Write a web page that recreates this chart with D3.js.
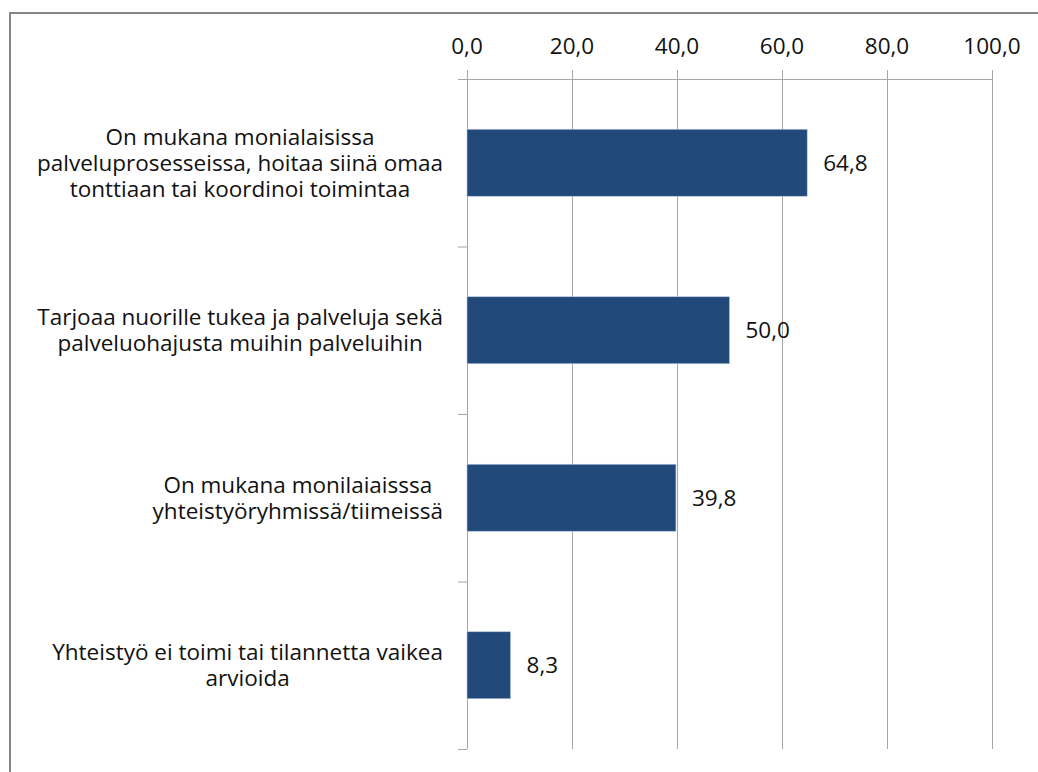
<!DOCTYPE html>
<html>
<head>
<meta charset="utf-8">
<script src="https://cdn.jsdelivr.net/npm/d3@7"></script>
<style>
  html, body { margin: 0; padding: 0; background: #fff; }
  text { font-family: 'Open Sans', 'Noto Sans', sans-serif; fill: #111; }
</style>
</head>
<body>
<script>
const categories = [
  ['On mukana monialaisissa', 'palveluprosesseissa, hoitaa siinä omaa', 'tonttiaan tai koordinoi toimintaa'],
  ['Tarjoaa nuorille tukea ja palveluja sekä', 'palveluohajusta muihin palveluihin'],
  ['On mukana monilaiaisssa', 'yhteistyöryhmissä/tiimeissä'],
  ['Yhteistyö ei toimi tai tilannetta vaikea', 'arvioida']
];
const values = [64.8, 50.0, 39.8, 8.3];
const ticks = [0, 20, 40, 60, 80, 100];

const width = 1038;
const height = 772;
const fontSize = 22.5;
const fmt = v => v.toFixed(1).replace('.', ',');

const svg = d3.select('body').append('svg')
    .attr('width', width)
    .attr('height', height);

// chart area frame (cut off at right and bottom like the source)
svg.append('rect')
    .attr('x', 10)
    .attr('y', 13)
    .attr('width', width + 20)
    .attr('height', height + 20)
    .attr('fill', '#fff')
    .attr('stroke', '#868686')
    .attr('stroke-width', 2);

const x = d3.scaleLinear()
    .domain([0, 100])
    .range([467, 992]);

const y = d3.scaleBand()
    .domain(d3.range(categories.length))
    .range([79, 749])
    .paddingInner(0.6)
    .paddingOuter(0.3);

const plotTop = y.range()[0];
const plotBottom = y.range()[1];

// vertical gridlines
svg.append('g')
  .selectAll('line')
  .data(ticks)
  .join('line')
    .attr('x1', d => x(d) + 0.5)
    .attr('x2', d => x(d) + 0.5)
    .attr('y1', plotTop - 9)
    .attr('y2', plotBottom)
    .attr('stroke', '#a6a6a6')
    .attr('stroke-width', 1);

// top axis line
svg.append('line')
    .attr('x1', x(0) - 9)
    .attr('x2', x(100) + 0.5)
    .attr('y1', plotTop + 0.5)
    .attr('y2', plotTop + 0.5)
    .attr('stroke', '#a6a6a6');

// category tick marks on the value axis
svg.append('g')
  .selectAll('line')
  .data(d3.range(categories.length + 1))
  .join('line')
    .attr('x1', x(0) - 9)
    .attr('x2', x(0))
    .attr('y1', i => plotTop + i * y.step() + 0.5)
    .attr('y2', i => plotTop + i * y.step() + 0.5)
    .attr('stroke', '#a6a6a6');

// tick labels
svg.append('g')
  .selectAll('text')
  .data(ticks)
  .join('text')
    .attr('x', d => x(d))
    .attr('y', 46)
    .attr('dy', '0.35em')
    .attr('text-anchor', 'middle')
    .style('font-size', fontSize + 'px')
    .text(fmt);

// bars
svg.append('g')
  .selectAll('rect')
  .data(values)
  .join('rect')
    .attr('x', x(0))
    .attr('y', (d, i) => y(i))
    .attr('width', d => x(d) - x(0))
    .attr('height', y.bandwidth())
    .attr('fill', '#214a7b')
    .attr('stroke', '#b8c7dc')
    .attr('stroke-width', 0.6);

// value labels
svg.append('g')
  .selectAll('text')
  .data(values)
  .join('text')
    .attr('x', d => x(d) + 16)
    .attr('y', (d, i) => y(i) + y.bandwidth() / 2)
    .attr('dy', '0.35em')
    .style('font-size', fontSize + 'px')
    .text(fmt);

// category labels: centred lines, block right-aligned next to the axis
const lineHeight = 26;
const labelRight = 443;
categories.forEach((lines, i) => {
  const g = svg.append('g');
  const texts = g.selectAll('text')
    .data(lines)
    .join('text')
      .style('font-size', fontSize + 'px')
      .attr('text-anchor', 'middle')
      .attr('dy', '0.35em')
      .text(d => d);
  const maxW = d3.max(texts.nodes(), n => n.getComputedTextLength());
  const cy = y(i) + y.bandwidth() / 2;
  texts
      .attr('x', labelRight - maxW / 2)
      .attr('y', (d, j) => cy + (j - (lines.length - 1) / 2) * lineHeight);
});
</script>
</body>
</html>
